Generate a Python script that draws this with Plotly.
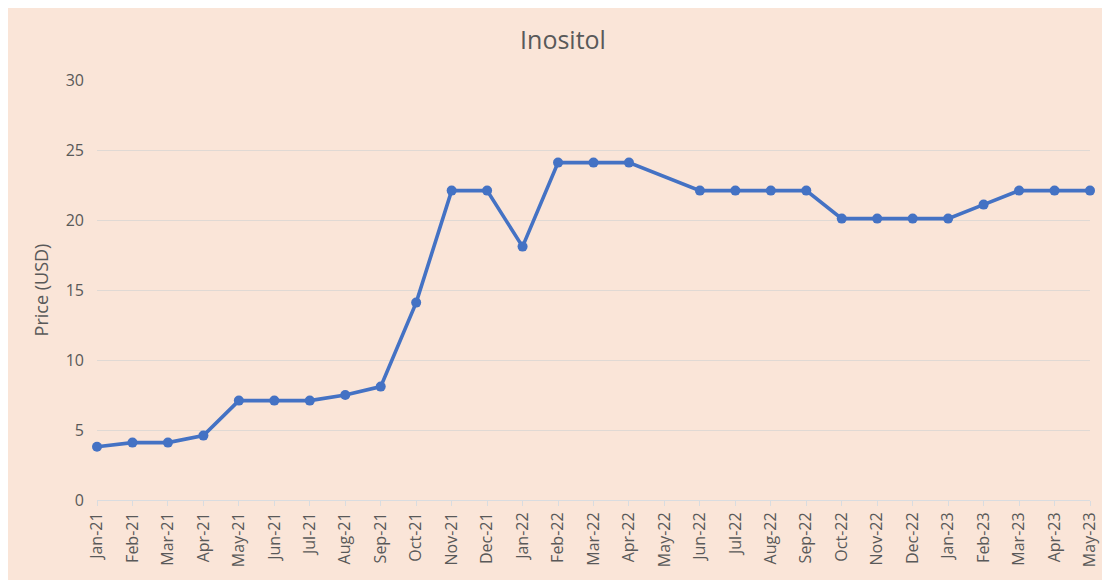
import plotly.graph_objects as go

months = ["Jan-21", "Feb-21", "Mar-21", "Apr-21", "May-21", "Jun-21", "Jul-21", "Aug-21",
          "Sep-21", "Oct-21", "Nov-21", "Dec-21", "Jan-22", "Feb-22", "Mar-22", "Apr-22",
          "May-22", "Jun-22", "Jul-22", "Aug-22", "Sep-22", "Oct-22", "Nov-22", "Dec-22",
          "Jan-23", "Feb-23", "Mar-23", "Apr-23", "May-23"]
# May-22 has no reading, the line just joins Apr-22 to Jun-22
price = [3.8, 4.1, 4.1, 4.6, 7.1, 7.1, 7.1, 7.5,
         8.1, 14.1, 22.1, 22.1, 18.1, 24.1, 24.1, 24.1,
         None, 22.1, 22.1, 22.1, 22.1, 20.1, 20.1, 20.1,
         20.1, 21.1, 22.1, 22.1, 22.1]
y_ticks = [0, 5, 10, 15, 20, 25, 30]

bg = "#FAE5D8"
blue = "#4472C4"
grey_text = "#595959"
grid = "#E0D9D4"

fig = go.Figure()
fig.add_trace(go.Scatter(
    x=months, y=price, mode="lines+markers", connectgaps=True,
    line=dict(color=blue, width=3.6),
    marker=dict(color=blue, size=10),
    cliponaxis=False, showlegend=False,
))

fig.update_layout(
    width=1110, height=580,
    margin=dict(l=89, r=28, t=72, b=88),
    paper_bgcolor=bg, plot_bgcolor=bg,
    font=dict(family="Open Sans", color=grey_text, size=14),
    title=dict(text="Inositol", x=0.5, xref="container", xanchor="center",
               y=0.945, yanchor="middle",
               font=dict(size=25, color=grey_text)),
)
fig.update_xaxes(
    type="category", range=[0, len(months) - 1], tickangle=-90,
    showgrid=False, showline=True, linecolor="#D9DCE0", linewidth=1,
    ticks="outside", ticklen=5, tickcolor="#D9DCE0",
    tickfont=dict(size=16, color=grey_text),
)
fig.update_yaxes(
    range=[0, 30], tickvals=y_ticks, showgrid=True, gridcolor=grid, gridwidth=1,
    zeroline=False, showline=False, ticks="", ticklabelstandoff=12,
    tickfont=dict(size=16, color=grey_text),
    title=dict(text="Price (USD)", font=dict(size=18, color=grey_text), standoff=12),
)

fig.write_html("out.html")
